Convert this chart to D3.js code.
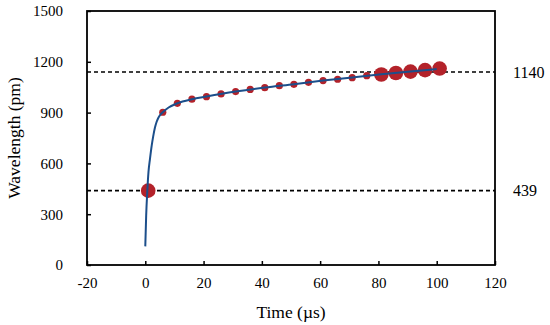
<!DOCTYPE html>
<html>
<head>
<meta charset="utf-8">
<script src="https://cdn.jsdelivr.net/npm/d3@7"></script>
<style>
  body { margin: 0; background: #fff; }
</style>
</head>
<body>
<div id="chart"></div>
<script>
// measured points (time in µs, wavelength in pm)
let pointTimes = [1, 6, 11, 16, 21, 26, 31, 36, 41, 46, 51, 56, 61, 66, 71, 76, 81, 86, 91, 96, 101]
let pointValues = [439, 902, 955, 979, 994, 1010, 1024, 1037, 1047, 1059, 1067, 1079, 1089, 1097, 1106, 1118, 1125, 1134, 1142, 1151, 1160]
let bigPoints = [1, 81, 86, 91, 96, 101]

// fitted curve
let curveTimes = [0, 0.3, 0.7, 1.1, 1.6, 2.2, 2.7, 3.3, 3.9, 4.5, 5.2, 6, 8, 11, 16, 21, 31, 41, 51, 61, 71, 81, 91, 100]
let curveValues = [110, 290, 439, 550, 625, 705, 758, 810, 846, 870, 888, 902, 930, 955, 979, 995, 1024, 1048, 1068, 1089, 1107, 1126, 1143, 1157]

let refLines = [1140, 439]
let xTicks = [-20, 0, 20, 40, 60, 80, 100, 120]
let yTicks = [0, 300, 600, 900, 1200, 1500]

const FONT = "'Liberation Serif', 'Times New Roman', Times, serif"

var margin = {top: 11, right: 55, bottom: 60, left: 87},
  width = 550 - margin.left - margin.right,
  height = 325 - margin.top - margin.bottom;

var svg = d3.select("#chart")
  .append("svg")
    .attr("width", 550)
    .attr("height", 325)
    .style("font-family", FONT)
  .append("g")
    .attr("transform", "translate(" + margin.left + "," + margin.top + ")");

var x = d3.scaleLinear().domain([-20, 120]).range([0, width])
var y = d3.scaleLinear().domain([0, 1500]).range([height, 0])

// axes with inward ticks
var xAxis = svg.append("g")
  .attr("transform", "translate(0," + height + ")")
  .call(d3.axisBottom(x).tickValues(xTicks).tickFormat(d => String(d)).tickSizeInner(-4).tickSizeOuter(0).tickPadding(12))

var yAxis = svg.append("g")
  .call(d3.axisLeft(y).tickValues(yTicks).tickFormat(d => String(d)).tickSizeInner(-4).tickSizeOuter(0).tickPadding(24))

svg.selectAll(".tick text")
  .attr("font-family", null)
  .style("font-family", FONT)
  .style("font-size", "15px")
  .attr("fill", "#000")

svg.selectAll(".domain").remove()
svg.selectAll(".tick line").attr("stroke", "#000").attr("stroke-width", 1.5)

// frame
svg.append("rect")
  .attr("x", 0).attr("y", 0)
  .attr("width", width).attr("height", height)
  .attr("fill", "none")
  .attr("stroke", "#000")
  .attr("stroke-width", 1.8)

// dashed reference lines + labels
svg.selectAll(".ref")
  .data(refLines)
  .enter()
  .append("line")
    .attr("x1", 0).attr("x2", width)
    .attr("y1", d => y(d)).attr("y2", d => y(d))
    .attr("stroke", "#000")
    .attr("stroke-width", 1.6)
    .attr("stroke-dasharray", "4,3")

svg.selectAll(".reflabel")
  .data(refLines)
  .enter()
  .append("text")
    .attr("x", width + 18)
    .attr("y", d => y(d))
    .attr("dy", "0.35em")
    .style("font-family", FONT)
    .style("font-size", "16px")
    .text(d => d)

// markers
let pts = pointTimes.map((t, i) => ({t: t, v: pointValues[i]}))
svg.selectAll(".pt")
  .data(pts)
  .enter()
  .append("circle")
    .attr("cx", d => x(d.t))
    .attr("cy", d => y(d.v))
    .attr("r", d => bigPoints.includes(d.t) ? 7.3 : 3.6)
    .attr("fill", "#b3222a")

// curve
let curve = curveTimes.map((t, i) => [t, curveValues[i]])
svg.append("path")
  .datum(curve)
  .attr("fill", "none")
  .attr("stroke", "#1c4f8b")
  .attr("stroke-width", 2)
  .attr("d", d3.line().x(d => x(d[0])).y(d => y(d[1])).curve(d3.curveMonotoneX))

// axis titles
svg.append("text")
  .attr("x", width / 2)
  .attr("y", height + 53)
  .attr("text-anchor", "middle")
  .style("font-family", FONT)
  .style("font-size", "17.5px")
  .text("Time (µs)")

svg.append("text")
  .attr("transform", "translate(" + (-67) + "," + (height / 2) + ") rotate(-90)")
  .attr("text-anchor", "middle")
  .style("font-family", FONT)
  .style("font-size", "17.5px")
  .text("Wavelength (pm)")
</script>
</body>
</html>
